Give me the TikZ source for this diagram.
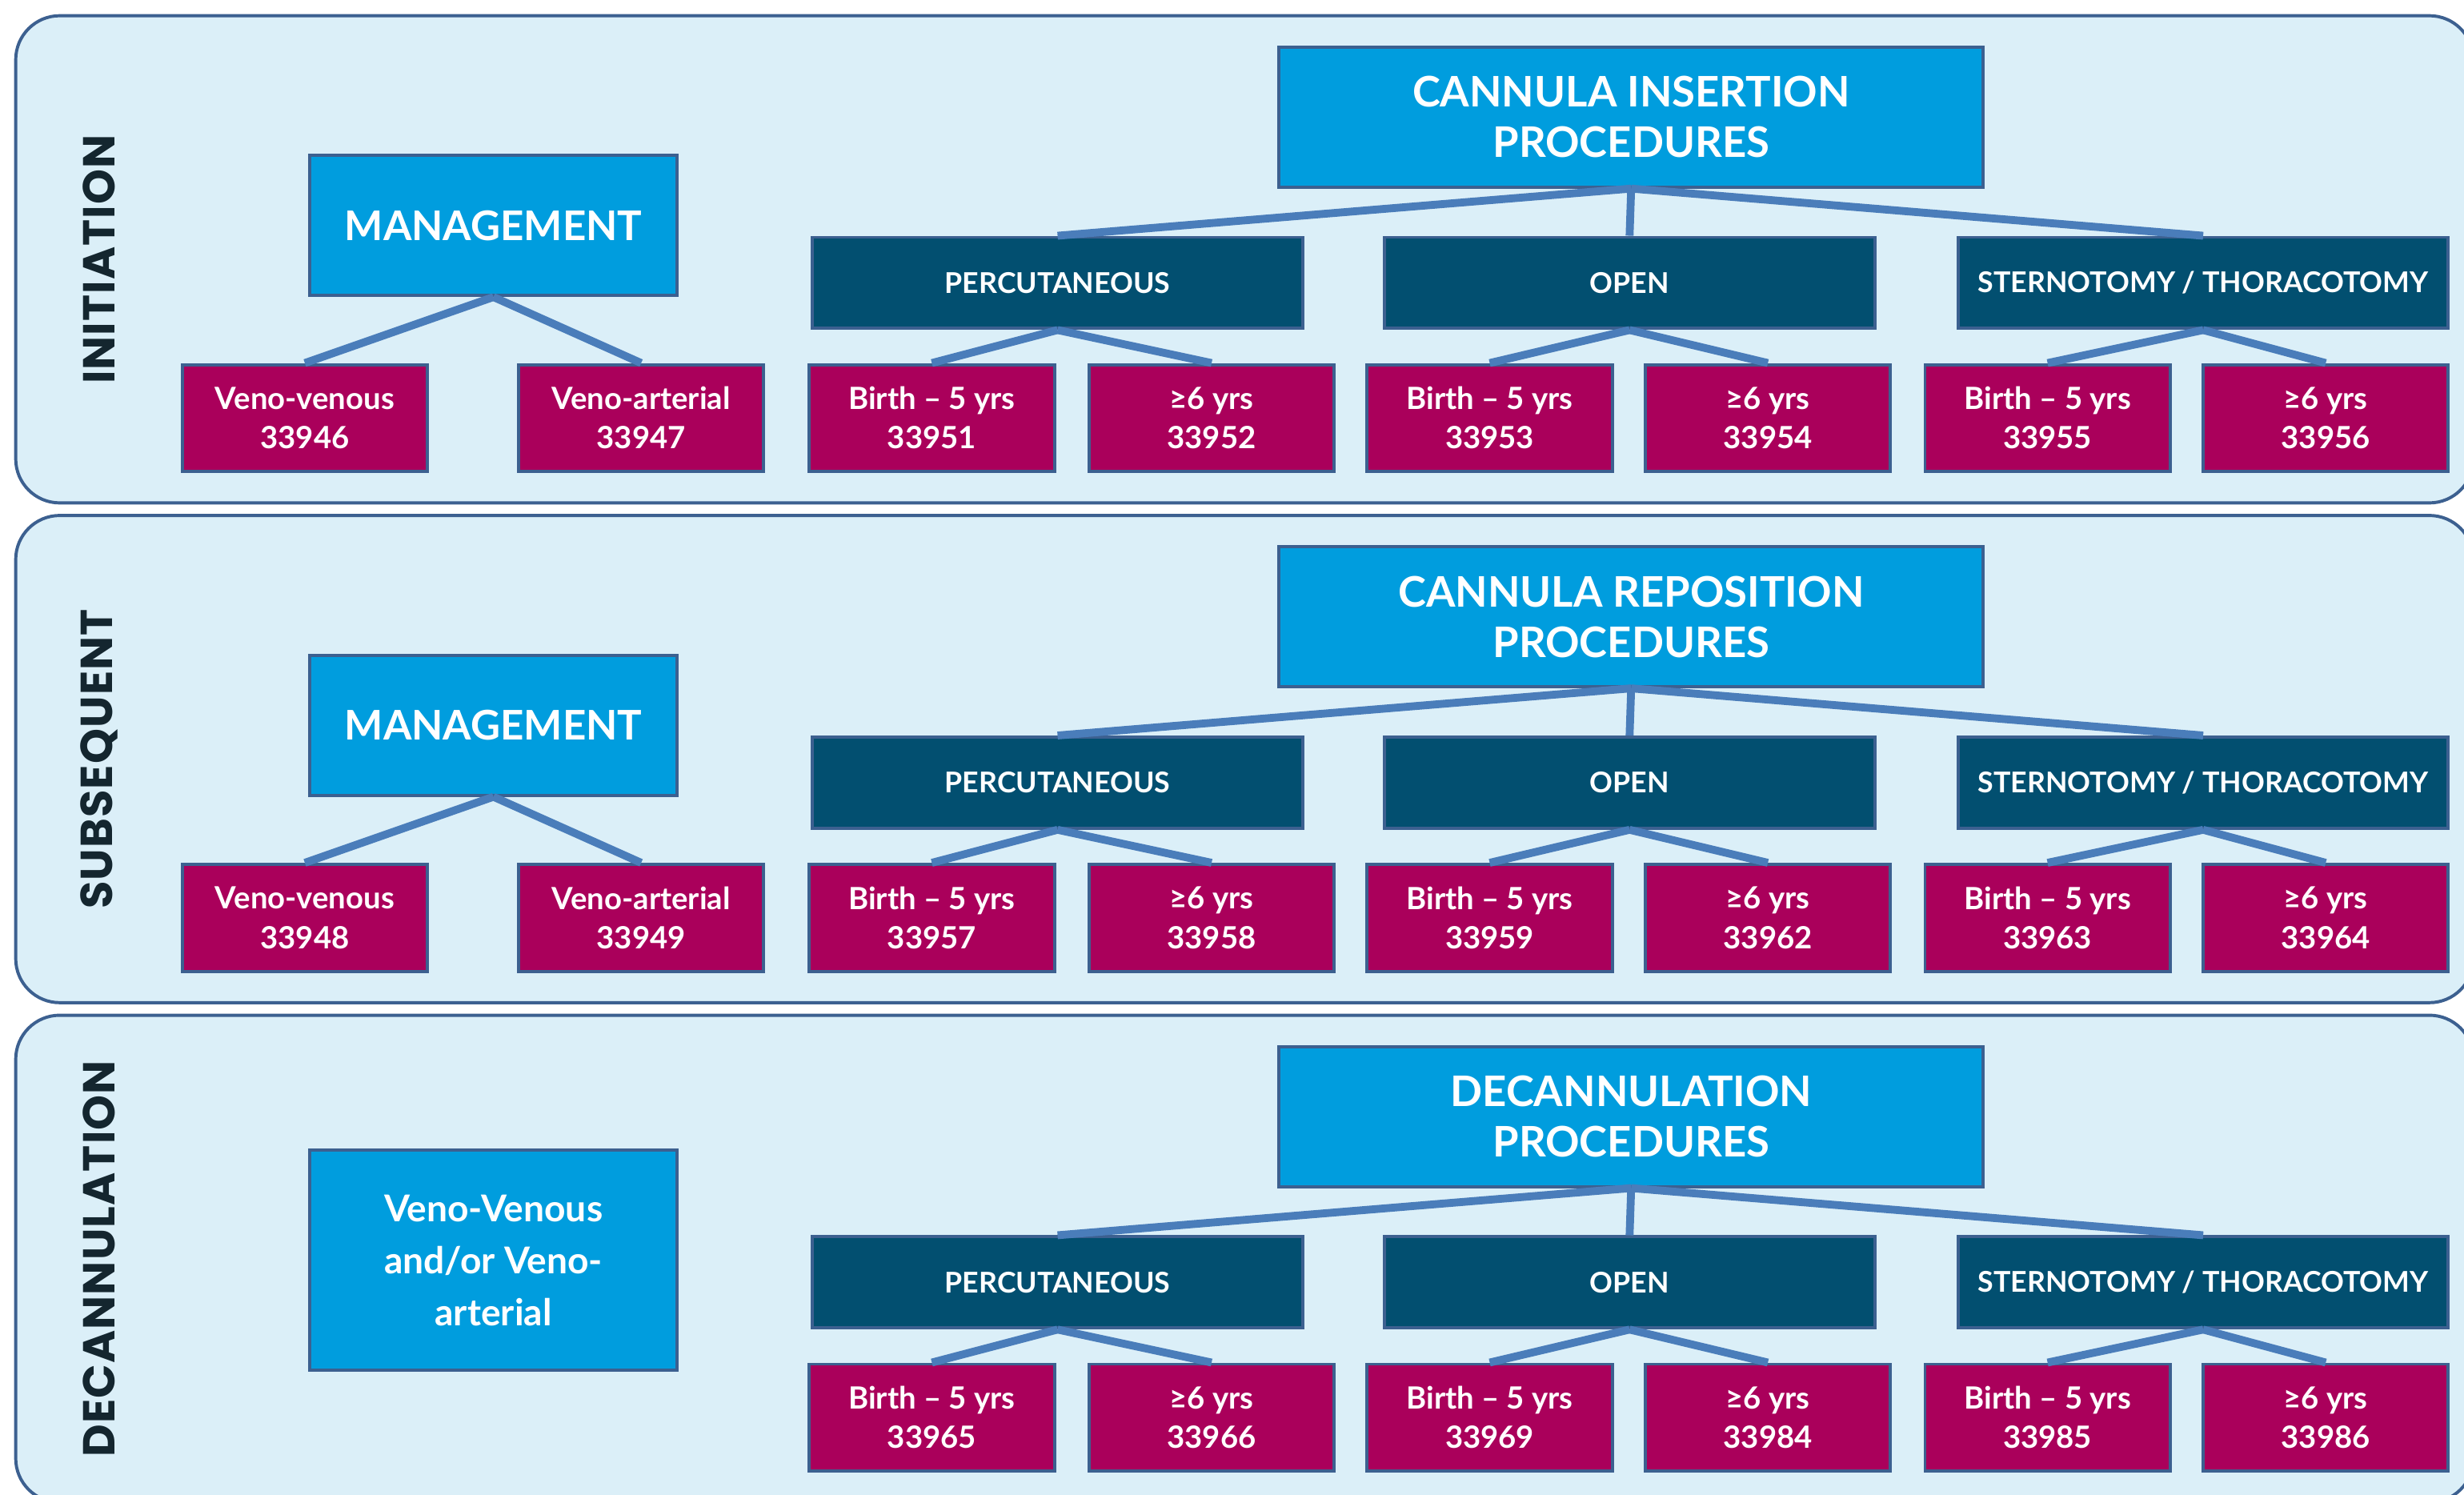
\documentclass[tikz,border=0pt]{standalone}
\usepackage{fontspec}
\setmainfont{Lato}
\newfontfamily\grpfont[LetterSpace=2]{Poppins}
\definecolor{pfill}{HTML}{DBEFF8}
\definecolor{pborder}{HTML}{3C6090}
\definecolor{bright}{HTML}{009DDE}
\definecolor{darkbox}{HTML}{024F70}
\definecolor{mag}{HTML}{AA005B}
\definecolor{conn}{HTML}{4A7DBA}
\definecolor{grptext}{HTML}{14262F}
\tikzset{
  panel/.style={draw=pborder, fill=pfill, line width=2pt, rounded corners=28pt},
  boxbase/.style={draw=pborder, line width=2pt, text=white, align=center, inner sep=0pt},
  topbox/.style={boxbase, fill=bright, minimum width=448pt, minimum height=89pt, font=\bfseries\fontsize{26.8}{32}\selectfont},
  mgmt/.style={boxbase, fill=bright, minimum width=234pt, minimum height=89pt, font=\bfseries\fontsize{26}{32}\selectfont},
  vvbox/.style={boxbase, fill=bright, minimum width=234pt, minimum height=140pt, font=\bfseries\fontsize{23.5}{33}\selectfont},
  midbox/.style={boxbase, fill=darkbox, minimum width=312pt, minimum height=58pt, font=\bfseries\fontsize{18.2}{20}\selectfont},
  leaf/.style={boxbase, fill=mag, minimum width=156pt, minimum height=68pt, font=\bfseries\fontsize{19.5}{25}\selectfont},
  conn/.style={draw=conn, line width=5pt},
  grp/.style={text=grptext, font=\grpfont\bfseries\fontsize{28.5}{30}\selectfont, rotate=90, inner sep=0pt}
}
\newcommand\proctree[8]{%
  \node[topbox] (#1top) at (1038,74.5) {#2};
  \node[midbox] (#1p) at (673,180) {PERCUTANEOUS};
  \node[midbox] (#1o) at (1037,180) {OPEN};
  \node[midbox] (#1s) at (1402,180) {STERNOTOMY / THORACOTOMY};
  \node[leaf] (#1pa) at (593,266) {Birth – 5 yrs\\#3};
  \node[leaf] (#1pb) at (771,266) {≥6 yrs\\#4};
  \node[leaf] (#1oa) at (948,266) {Birth – 5 yrs\\#5};
  \node[leaf] (#1ob) at (1125,266) {≥6 yrs\\#6};
  \node[leaf] (#1sa) at (1303,266) {Birth – 5 yrs\\#7};
  \node[leaf] (#1sb) at (1480,266) {≥6 yrs\\#8};
  \draw[conn] (#1top.south) -- (#1p.north);
  \draw[conn] (#1top.south) -- (#1o.north);
  \draw[conn] (#1top.south) -- (#1s.north);
  \draw[conn] (#1p.south) -- (#1pa.north);
  \draw[conn] (#1p.south) -- (#1pb.north);
  \draw[conn] (#1o.south) -- (#1oa.north);
  \draw[conn] (#1o.south) -- (#1ob.north);
  \draw[conn] (#1s.south) -- (#1sa.north);
  \draw[conn] (#1s.south) -- (#1sb.north);
}
\begin{document}
\begin{tikzpicture}[x=1pt, y=-1pt]
\useasboundingbox (0,0) rectangle (1568,950.78);
\fill[white] (0,0) rectangle (1568,950.78);
% panels
\draw[panel] (10,10) rectangle (1574,320);
\draw[panel] (10,328) rectangle (1574,638);
\draw[panel] (10,646) rectangle (1574,956);
% group labels
\node[grp] (g1) at (63,165) {INITIATION};
\node[grp] (g2) at (63,483) {SUBSEQUENT};
\node[grp] (g3) at (63,801) {DECANNULATION};
% panel 1
\node[mgmt] (m1) at (314,143.5) {MANAGEMENT};
\node[leaf] (m1a) at (194,266) {Veno-venous\\33946};
\node[leaf] (m1b) at (408,266) {Veno-arterial\\33947};
\draw[conn] (m1.south) -- (m1a.north);
\draw[conn] (m1.south) -- (m1b.north);
\proctree{a}{CANNULA INSERTION\\PROCEDURES}{33951}{33952}{33953}{33954}{33955}{33956}
% panel 2
\begin{scope}[yshift=-318pt]
\node[mgmt] (m2) at (314,143.5) {MANAGEMENT};
\node[leaf] (m2a) at (194,266) {Veno-venous\\33948};
\node[leaf] (m2b) at (408,266) {Veno-arterial\\33949};
\draw[conn] (m2.south) -- (m2a.north);
\draw[conn] (m2.south) -- (m2b.north);
\proctree{b}{CANNULA REPOSITION\\PROCEDURES}{33957}{33958}{33959}{33962}{33963}{33964}
\end{scope}
% panel 3
\begin{scope}[yshift=-636pt]
\node[vvbox] (vv) at (314,166) {Veno-Venous\\and/or Veno-\\arterial};
\proctree{c}{DECANNULATION\\PROCEDURES}{33965}{33966}{33969}{33984}{33985}{33986}
\end{scope}
\end{tikzpicture}
\end{document}
